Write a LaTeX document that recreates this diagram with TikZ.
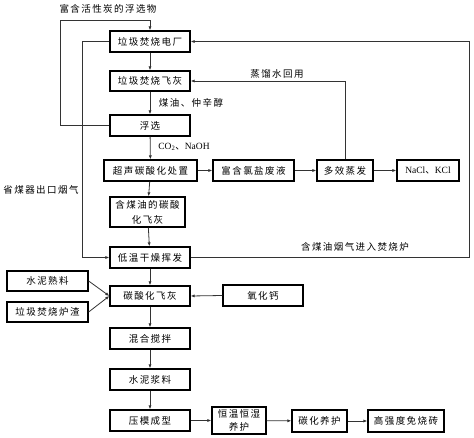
\documentclass[tikz,border=0pt]{standalone}
\usepackage{fontspec}
\setmainfont{Liberation Serif}
\newfontfamily\cjk[LetterSpace=15]{Noto Sans CJK SC}
\usetikzlibrary{arrows.meta}
\begin{document}
\begin{tikzpicture}[x=1pt,y=-1pt,
  box/.style={draw=black,line width=1.3pt,rectangle,inner sep=0pt,align=center,font=\fontsize{9.5}{12}\selectfont\cjk},
  lbl/.style={inner sep=0pt,font=\fontsize{9.5}{12}\selectfont\cjk},
  conn/.style={draw=black!80,line width=0.8pt},
  arr/.style={conn,-{Latex[length=4pt,width=3.2pt]}}]
\useasboundingbox (0,0) rectangle (474,438);
\node[box,minimum width=80,minimum height=21] (plant) at (150,41.5) {垃圾焚烧电厂};
\node[box,minimum width=80,minimum height=20] (ash) at (150,81) {垃圾焚烧飞灰};
\node[box,minimum width=80,minimum height=21] (flot) at (150,125.5) {浮选};
\node[box,minimum width=93,minimum height=21] (ultra) at (150.5,170.5) {超声碳酸化处置};
\node[box,minimum width=75,minimum height=30,font=\fontsize{9.5}{15}\selectfont\cjk] (oilash) at (147.5,212) {含煤油的碳酸\\化飞灰};
\node[box,minimum width=80,minimum height=21] (dry) at (150,257.5) {低温干燥挥发};
\node[box,minimum width=81,minimum height=21] (brine) at (253.5,170.5) {富含氯盐废液};
\node[box,minimum width=56,minimum height=21] (evap) at (345,170.5) {多效蒸发};
\node[box,minimum width=62,minimum height=21,font=\fontsize{9.5}{12}\selectfont] (nacl) at (428,170.5) {NaCl{\cjk 、}KCl};
\node[box,minimum width=81,minimum height=20] (clinker) at (47.5,281) {水泥熟料};
\node[box,minimum width=81,minimum height=20] (slag) at (47.5,312) {垃圾焚烧炉渣};
\node[box,minimum width=80,minimum height=20] (carbash) at (150,296) {碳酸化飞灰};
\node[box,minimum width=80,minimum height=21] (cao) at (263,295.5) {氧化钙};
\node[box,minimum width=80,minimum height=21] (mix) at (150,338.5) {混合搅拌};
\node[box,minimum width=80,minimum height=21] (slurry) at (150,379.5) {水泥浆料};
\node[box,minimum width=80,minimum height=21] (press) at (150,420.5) {压模成型};
\node[box,minimum width=54,minimum height=27,font=\fontsize{9.5}{13}\selectfont\cjk] (cure) at (239,420.5) {恒温恒湿\\养护};
\node[box,minimum width=55,minimum height=22] (carbcure) at (319.5,421) {碳化养护};
\node[box,minimum width=76,minimum height=22] (brick) at (406,421) {高强度免烧砖};
% labels
\node[lbl] (l1) at (108,9) {富含活性炭的浮选物};
\node[lbl] (l2) at (191,103) {煤油、仲辛醇};
\node[lbl,font=\fontsize{9.5}{12}\selectfont] (l3) at (184,147) {CO\textsubscript{2}{\cjk 、}NaOH};
\node[lbl] (l4) at (277,74) {蒸馏水回用};
\node[lbl] (l5) at (41,190) {省煤器出口烟气};
\node[lbl] (l6) at (355,247) {含煤油烟气进入焚烧炉};
% coordinates
\coordinate (fl1) at (60,125.5);
\coordinate (fl2) at (60,20);
\coordinate (fl3) at (150,20);
\coordinate (gs1) at (82,41.5);
\coordinate (gs2) at (82,257.5);
\coordinate (rt1) at (469,257.5);
\coordinate (rt2) at (469,41.5);
\coordinate (ev1) at (345,81);
% connectors
\draw[arr] (plant) -- (ash);
\draw[arr] (ash) -- (flot);
\draw[arr] (flot) -- (ultra);
\draw[arr] (ultra) -- (oilash);
\draw[arr] (oilash) -- (dry);
\draw[arr] (dry) -- (carbash);
\draw[arr] (carbash) -- (mix);
\draw[arr] (mix) -- (slurry);
\draw[arr] (slurry) -- (press);
\draw[arr] (press) -- (cure);
\draw[arr] (cure) -- (carbcure);
\draw[arr] (carbcure) -- (brick);
\draw[arr] (ultra) -- (brine);
\draw[arr] (brine) -- (evap);
\draw[arr] (evap) -- (nacl);
\draw[arr] (evap.north) -- (ev1) -- (ash.east);
\draw[arr] (flot.west) -- (fl1) -- (fl2) -- (fl3) -- (plant.north);
\draw[arr] (plant.west) -- (gs1) -- (gs2) -- (dry.west);
\draw[arr] (dry.east) -- (rt1) -- (rt2) -- (plant.east);
\draw[arr] (clinker.east) -- (carbash.west);
\draw[arr] (slag.east) -- (carbash.west);
\draw[arr] (cao.west) -- (carbash.east);
\end{tikzpicture}
\end{document}
